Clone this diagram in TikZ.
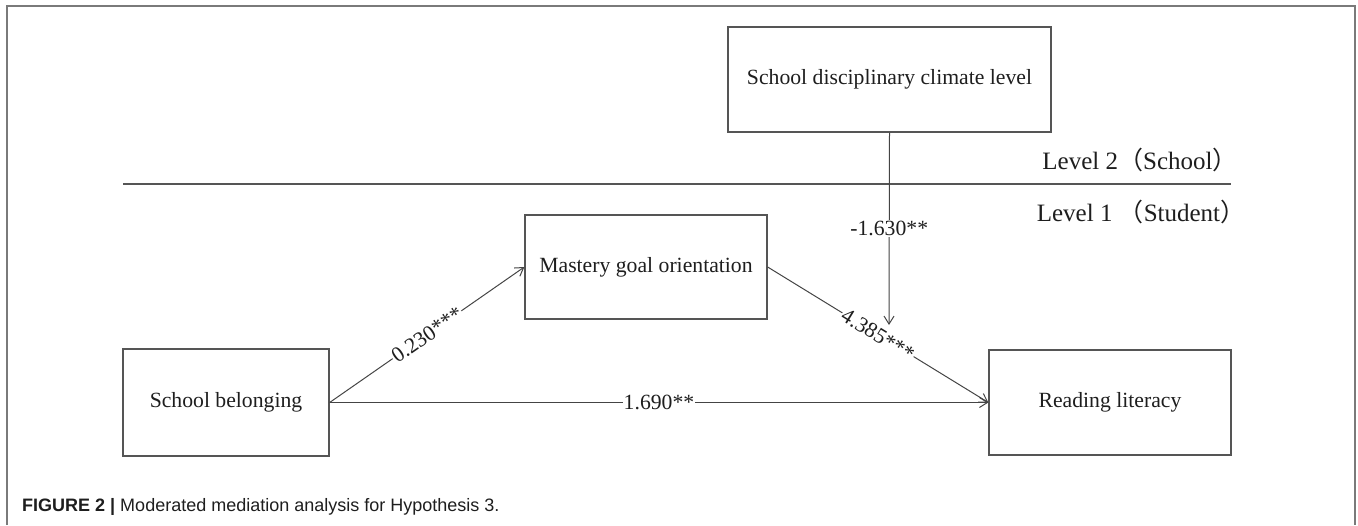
\documentclass[tikz,border=0pt]{standalone}
\usepackage{fontspec}
\setmainfont{Liberation Serif}
\newfontfamily\capfont{Liberation Sans}
\newfontfamily\cjkfont{Noto Sans CJK SC}
\usetikzlibrary{arrows.meta}
\definecolor{boxgray}{HTML}{555555}
\definecolor{linegray}{HTML}{444444}
\definecolor{framegray}{HTML}{7A7A7A}
\definecolor{txt}{HTML}{1E1E1E}
\begin{document}
\begin{tikzpicture}[x=1pt,y=-1pt,
  box/.style={draw=boxgray, line width=1.3pt, inner sep=0pt, text=txt,
    font=\fontsize{21.7}{26}\selectfont},
  conn/.style={draw=linegray, line width=1pt, -{Straight Barb[length=8pt,width=10pt]}},
  lab/.style={fill=white, inner sep=1pt, text=txt, font=\fontsize{21.7}{26}\selectfont},
  levellab/.style={inner sep=0pt, text=txt, font=\fontsize{25}{30}\selectfont}]
\useasboundingbox (0,0) rectangle (1358,525);
% outer frame
\draw[framegray, line width=2pt] (7,525) -- (7,6) -- (1355,6) -- (1355,525);
% level divider
\coordinate (dl) at (123,184);
\coordinate (dr) at (1231,184);
\draw[boxgray, line width=1.5pt] (dl) -- (dr);
\node[levellab] (lv2) at (1140,160) {Level 2{\cjkfont （}School{\cjkfont ）}};
\node[levellab] (lv1) at (1141,212) {Level 1 {\cjkfont （}Student{\cjkfont ）}};
% boxes
\node[box, minimum width=323pt, minimum height=105pt] (sdc) at (889.5,79.5) {School disciplinary climate level};
\node[box, minimum width=242pt, minimum height=104pt] (mg) at (646,267) {Mastery goal orientation};
\node[box, minimum width=206pt, minimum height=107pt] (sb) at (226,402.5) {School belonging};
\node[box, minimum width=242pt, minimum height=105pt] (rl) at (1110,402.5) {Reading literacy};
% connectors
\draw[conn] (sb.east) -- node[lab, sloped] {0.230***} (mg.west);
\draw[conn] (mg.east) -- node[lab, sloped] {4.385***} (rl.west);
\draw[conn] (sb.east) -- node[lab] {1.690**} (rl.west);
\coordinate (mod) at (889,325);
\draw[conn] (sdc.south) -- node[lab] {-1.630**} (mod);
% caption
\node[anchor=west, inner sep=0pt, text=txt, font=\capfont\fontsize{18}{22}\selectfont] (cap) at (22,507)
  {\textbf{FIGURE 2 |} Moderated mediation analysis for Hypothesis 3.};
\end{tikzpicture}
\end{document}
